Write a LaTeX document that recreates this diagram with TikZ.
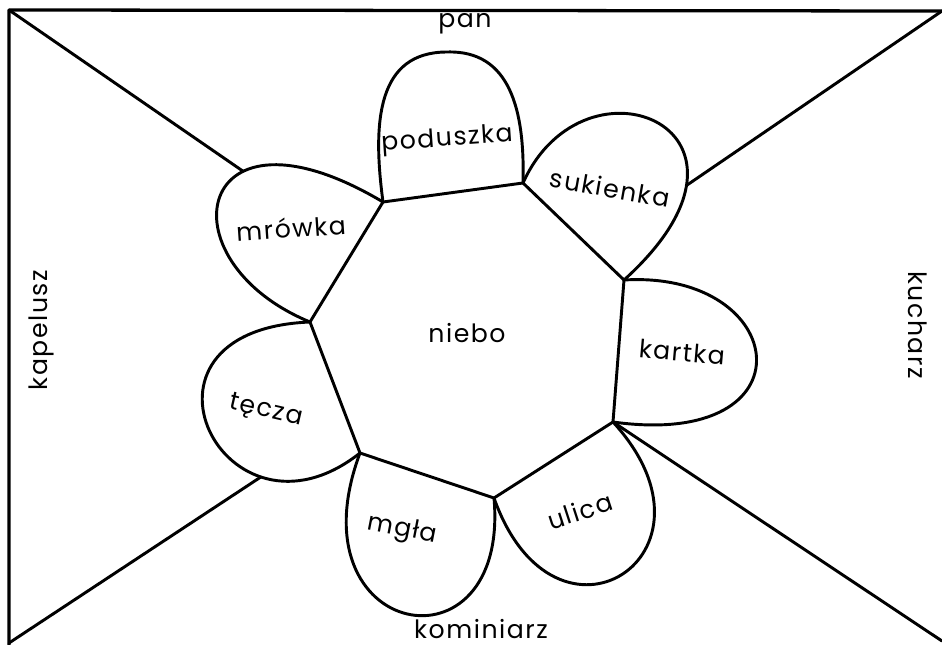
\documentclass[tikz,border=0pt]{standalone}
\usepackage{fontspec}
\setmainfont{Poppins}[LetterSpace=6]
\begin{document}
\begin{tikzpicture}[x=0.03cm,y=-0.03cm,line join=round,line cap=round,
  petal/.style={line width=2.5pt},
  framel/.style={line width=2.8pt},
  lbl/.style={font=\fontsize{21.5}{24}\selectfont,inner sep=0pt}]
\useasboundingbox (0,0) rectangle (942,645);
% polygon vertices
\coordinate (V1) at (383,202);
\coordinate (V2) at (523,183);
\coordinate (V3) at (624,280);
\coordinate (V4) at (613,422);
\coordinate (V5) at (494,498);
\coordinate (V6) at (360,453);
\coordinate (V7) at (310,322);
% frame corners
\coordinate (TL) at (9,10);
\coordinate (TR) at (942,11);
\coordinate (BL) at (9,645);
\coordinate (BLd) at (9,643);
\coordinate (BR) at (942,641);
% frame
\draw[framel] (BL) -- (TL) -- (TR);
% centre
\draw[petal] (V1) -- (V2) -- (V3) -- (V4) -- (V5) -- (V6) -- (V7) -- cycle;
% petals
\draw[petal] (V7) .. controls (160,260) and (195,90) .. coordinate[pos=0.65] (mrT) (V1);
\draw[petal] (V1) .. controls (372,120) and (378,52) .. (447,52)
                  .. controls (510,50) and (525,110) .. (V2);
\draw[petal] (V2) .. controls (585,45) and (790,130) .. coordinate[pos=0.76] (suT) (V3);
\draw[petal] (V3) .. controls (790,270) and (815,450) .. (V4);
\draw[petal] (V4) .. controls (735,555) and (555,670) .. (V5);
\draw[petal] (V5) .. controls (510,680) and (290,640) .. (V6);
\draw[petal] (V6) .. controls (225,560) and (110,330) .. coordinate[pos=0.27] (teT) (V7);
% diagonals
\draw[petal] (TL) -- (mrT);
\draw[petal] (TR) -- (suT);
\draw[petal] (BLd) -- (teT);
\draw[petal] (BR) -- (V4);
% labels
\node[lbl] (niebo) at (467,333) {niebo};
\node[lbl,rotate=4] (poduszka) at (447,140) {poduszka};
\node[lbl,rotate=4] (mrowka) at (291,228) {mrówka};
\node[lbl,rotate=-10] (sukienka) at (610,188) {sukienka};
\node[lbl,rotate=-5] (kartka) at (682,352) {kartka};
\node[lbl,rotate=18] (ulica) at (580,511) {ulica};
\node[lbl,rotate=-11] (mgla) at (402,530) {mgła};
\node[lbl,rotate=-13] (tecza) at (266,411) {tęcza};
\node[lbl,anchor=base] (pan) at (465,28) {pan};
\node[lbl,anchor=base] (kominiarz) at (481,638) {kominiarz};
\node[lbl,rotate=90] (kapelusz) at (41,330) {kapelusz};
\node[lbl,rotate=-90] (kucharz) at (918,325) {kucharz};
\end{tikzpicture}
\end{document}
